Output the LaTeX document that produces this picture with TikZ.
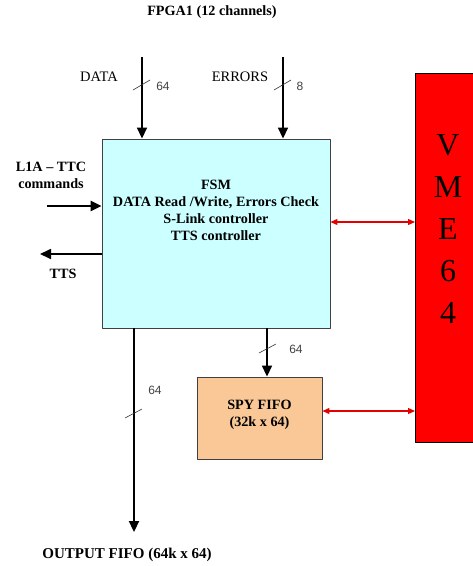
\documentclass[tikz,border=0pt]{standalone}
\usepackage{fontspec}
\setmainfont{Liberation Serif}
\newfontfamily\arialfont{Liberation Sans}
\usetikzlibrary{arrows.meta,positioning,calc}
\tikzstyle{every node}=[font=\bfseries\fontsize{14.2}{17}\selectfont]
\tikzstyle{every path}=[line width=0.8pt,line join=round]
\tikzstyle{block}=[draw=black!75,line width=0.9pt,inner sep=0pt]
\tikzstyle{bus}=[line width=1.7pt,-{Triangle[length=11pt,width=10pt]}]
\tikzstyle{vmelink}=[red!90!black,line width=1.2pt,{Triangle[length=7pt,width=6pt]}-{Triangle[length=7pt,width=6pt]}]
\tikzstyle{tick}=[line width=0.6pt,black!80]
\tikzstyle{buswidth}=[font=\arialfont\fontsize{12}{14}\selectfont,text=black!75]
\tikzstyle{plain}=[font=\fontsize{14.5}{17}\selectfont]

\begin{document}
\begin{tikzpicture}[x=1pt,y=-1pt]
  \useasboundingbox (0,0) rectangle (473,566);
  % blocks
  \node[block,fill={rgb,255:red,204;green,255;blue,255},minimum width=228pt,minimum height=189pt] (fsm) at (216,233.5) {};
  \node[align=center] (fsmtext) at (216,210)
       {FSM\\DATA Read /Write, Errors Check\\S-Link controller\\TTS controller};
  \node[block,fill={rgb,255:red,250;green,200;blue,150},minimum width=125pt,minimum height=82pt] (spy) at (259.5,418) {};
  \node[align=center] (spytext) at (259.5,415) {SPY FIFO\\(32k x 64)};
  \node[block,fill=red,draw=black,minimum width=65pt,minimum height=369pt,anchor=north west] (vme) at (415,73) {};
  \node[font=\fontsize{32}{42}\selectfont,align=center] (vmetext) at (448,229) {V\\M\\E\\6\\4};
  % top inputs
  \node (title) at (212,12) {FPGA1 (12 channels)};
  \coordinate (datain) at (142,57);
  \coordinate (errin) at (283,57);
  \draw[bus] (datain) -- (datain |- fsm.north);
  \draw[bus] (errin) -- (errin |- fsm.north);
  \node[plain] (datalabel) at (99,77) {DATA};
  \node[plain] (errlabel) at (240,77) {ERRORS};
  \draw[tick] (133,90)--(150,80) (274,90)--(291,80);
  \node[buswidth] (datawidth) at (163,86) {64};
  \node[buswidth] (errwidth) at (300,86) {8};
  % left side
  \node[align=center] (l1a) at (51,175) {L1A -- TTC\\commands};
  \coordinate (l1ain) at (47,206);
  \draw[bus,line width=2.6pt] (l1ain) -- (l1ain -| fsm.west);
  \coordinate (ttsout) at (40,254);
  \draw[bus] (ttsout -| fsm.west) -- (ttsout);
  \node (tts) at (63,274) {TTS};
  % vme links
  \draw[vmelink] (fsm.east |- 0,222) -- (vme.west |- 0,222);
  \draw[vmelink] (spy.east |- 0,411) -- (vme.west |- 0,411);
  % fsm to spy
  \coordinate (spyin) at (267,328);
  \draw[bus] (spyin) -- (spyin |- spy.north);
  \draw[tick] (259,353)--(276,344);
  \node[buswidth] (spywidth) at (296,349) {64};
  % output
  \coordinate (outfifo) at (134,532);
  \draw[bus,line width=2.2pt] (outfifo |- fsm.south) -- (outfifo);
  \draw[tick] (125,418)--(142,409);
  \node[buswidth] (outwidth) at (155,390) {64};
  \node[font=\bfseries\fontsize{15}{17}\selectfont] (outlabel) at (127,555) {OUTPUT FIFO (64k x 64)};
\end{tikzpicture}
\end{document}
